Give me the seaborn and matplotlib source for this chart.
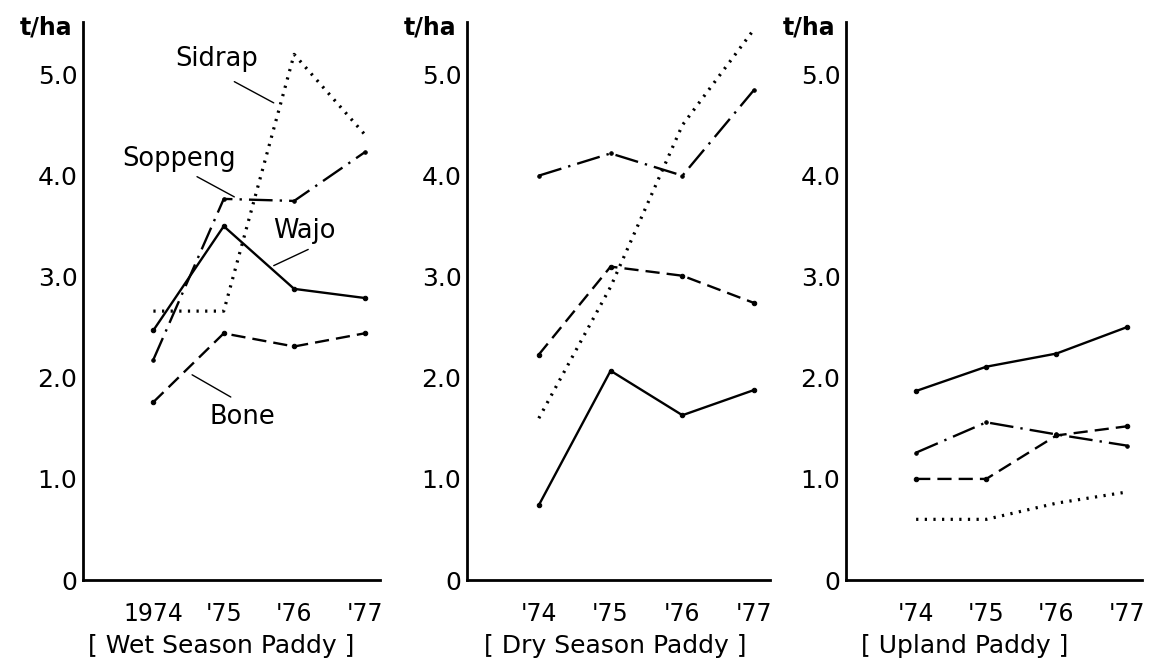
import matplotlib
matplotlib.use("Agg")
import matplotlib.pyplot as plt
import seaborn as sns
import pandas as pd

sns.set_theme(style="white")
plt.rcParams['font.family'] = ['DejaVu Sans']
plt.rcParams['text.color'] = 'black'
plt.rcParams['xtick.color'] = 'black'
plt.rcParams['ytick.color'] = 'black'
plt.rcParams['axes.labelcolor'] = 'black'

years = [0, 1, 2, 3]
wet_labels = ["1974", "'75", "'76", "'77"]
short_labels = ["'74", "'75", "'76", "'77"]
yticks = [0, 1.0, 2.0, 3.0, 4.0, 5.0]
ytick_labels = ["0", "1.0", "2.0", "3.0", "4.0", "5.0"]

panel_titles = ["[ Wet Season Paddy ]", "[ Dry Season Paddy ]", "[ Upland Paddy ]"]
districts = ["Sidrap", "Soppeng", "Wajo", "Bone"]

wet_sidrap = [2.66, 2.66, 5.2, 4.41]
wet_soppeng = [2.18, 3.77, 3.75, 4.23]
wet_wajo = [2.47, 3.5, 2.88, 2.79]
wet_bone = [1.76, 2.44, 2.31, 2.44]

dry_sidrap = [1.6, 2.9, 4.5, 5.45]
dry_soppeng = [4.0, 4.22, 4.0, 4.85]
dry_wajo = [0.74, 2.07, 1.63, 1.88]
dry_bone = [2.23, 3.1, 3.01, 2.74]

up_sidrap = [0.6, 0.6, 0.76, 0.87]
up_soppeng = [1.26, 1.56, 1.44, 1.33]
up_wajo = [1.87, 2.11, 2.24, 2.5]
up_bone = [1.0, 1.0, 1.43, 1.52]

panels = [
    {"Sidrap": wet_sidrap, "Soppeng": wet_soppeng, "Wajo": wet_wajo, "Bone": wet_bone},
    {"Sidrap": dry_sidrap, "Soppeng": dry_soppeng, "Wajo": dry_wajo, "Bone": dry_bone},
    {"Sidrap": up_sidrap, "Soppeng": up_soppeng, "Wajo": up_wajo, "Bone": up_bone},
]

styles = {
    "Sidrap": dict(linestyle=(0, (0.7, 2.0)), lw=2.3, marker=None),
    "Soppeng": dict(linestyle=(0, (10, 3, 1, 3)), lw=1.7, marker="o", ms=2.5),
    "Wajo": dict(linestyle="-", lw=1.7, marker="o", ms=3.2),
    "Bone": dict(linestyle=(0, (6, 3)), lw=1.7, marker="o", ms=3.2),
}

fig = plt.figure(figsize=(11.49, 6.68), dpi=100)
W, H = 1149, 668
bottom = (H - 580) / H
height = 558 / H
positions = [(83, 297), (467, 303), (846, 296)]
title_x = [0.465, 0.49, 0.40]

axes = []
for i, (left, width) in enumerate(positions):
    ax = fig.add_axes([left / W, bottom, width / W, height])
    axes.append(ax)
    data = panels[i]
    for d in districts:
        st = styles[d]
        df = pd.DataFrame({"year": years, "yield": data[d]})
        kw = dict(color="black", linewidth=st["lw"], linestyle=st["linestyle"])
        if st["marker"]:
            kw.update(marker=st["marker"], markersize=st["ms"], markerfacecolor="black",
                      markeredgecolor="black")
        sns.lineplot(data=df, x="year", y="yield", ax=ax, **kw)
    ax.set_xlim(-1.0, 3.22)
    ax.set_ylim(0, 5.52)
    ax.set_xticks(years)
    ax.set_xticklabels(wet_labels if i == 0 else short_labels, fontsize=17)
    ax.set_yticks(yticks)
    ax.set_yticklabels(ytick_labels, fontsize=18)
    ax.tick_params(axis="both", direction="in", length=5, width=1.5, color="black")
    ax.tick_params(axis="x", pad=16)
    ax.tick_params(axis="y", pad=4)
    ax.set_xlabel("")
    ax.set_ylabel("")
    for s in ["top", "right"]:
        ax.spines[s].set_visible(False)
    for s in ["left", "bottom"]:
        ax.spines[s].set_linewidth(2)
        ax.spines[s].set_color("black")
    ax.text(-0.035, 0.99, "t/ha", transform=ax.transAxes, ha="right", va="center",
            fontsize=17, fontweight="semibold")
    ax.text(title_x[i], -0.118, panel_titles[i], transform=ax.transAxes, ha="center",
            va="center", fontsize=18)
    ax.set_facecolor("white")

ax1 = axes[0]
ann = [
    ("Sidrap", (0.9, 5.15), (1.15, 4.93), (1.71, 4.72)),
    ("Soppeng", (0.37, 4.16), (0.62, 3.99), (1.15, 3.79)),
    ("Wajo", (2.15, 3.45), (2.2, 3.27), (1.71, 3.11)),
    ("Bone", (1.26, 1.61), (0.55, 2.03), (1.1, 1.81)),
]
for name, tpos, p0, p1 in ann:
    ax1.text(tpos[0], tpos[1], name, ha="center", va="center", fontsize=18.5)
    ax1.plot([p0[0], p1[0]], [p0[1], p1[1]], color="black", lw=1.0)

fig.savefig("out.png", dpi=100, facecolor="white")
